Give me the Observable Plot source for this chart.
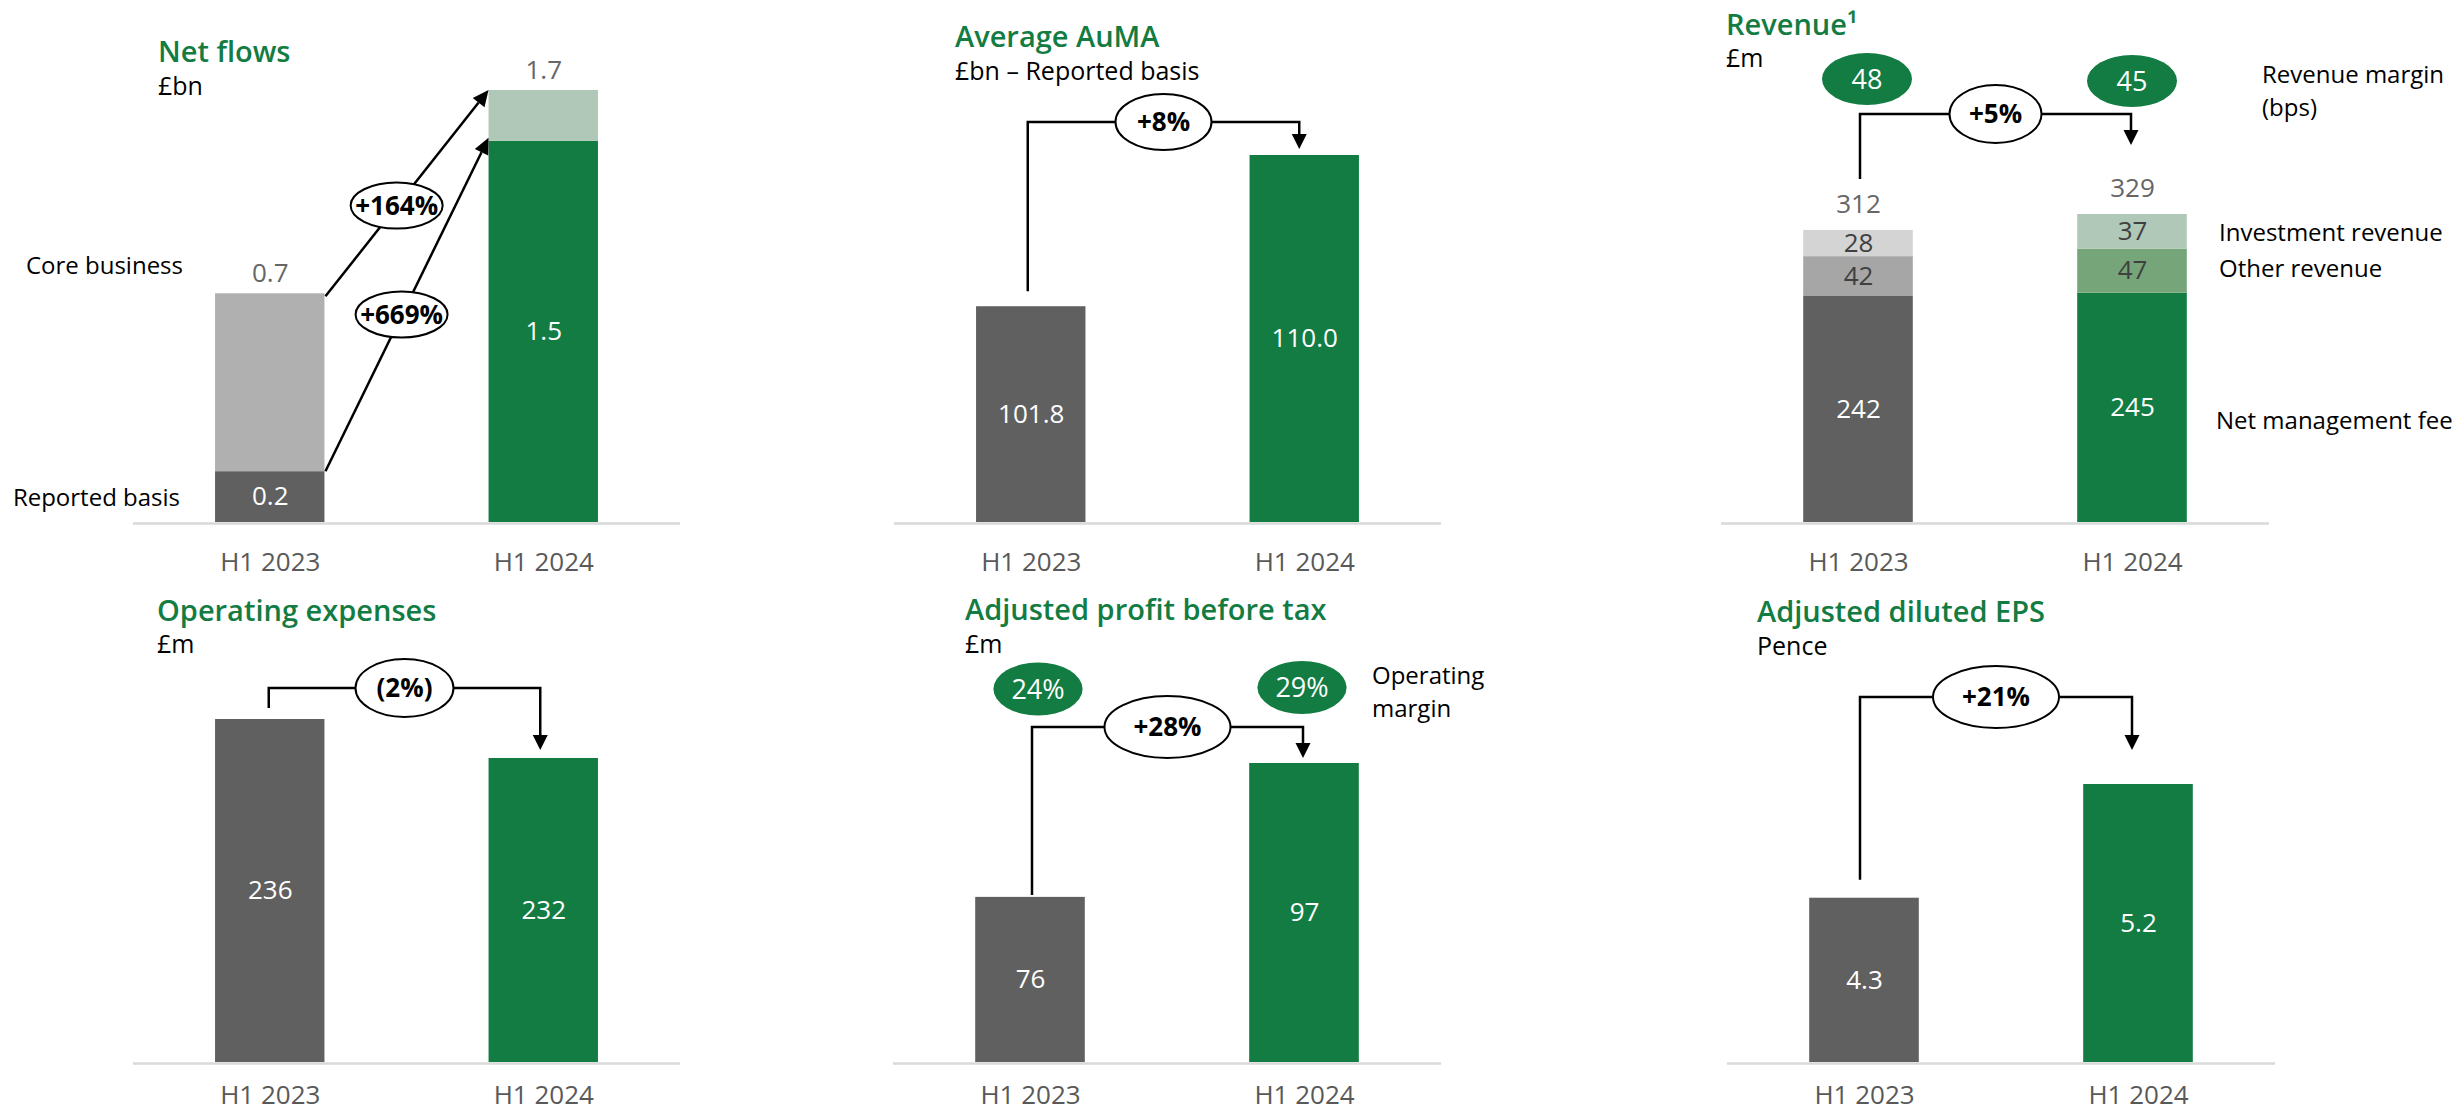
<!DOCTYPE html>
<html><head><meta charset="utf-8">
<script src="https://cdn.jsdelivr.net/npm/d3@7"></script>
<script src="https://cdn.jsdelivr.net/npm/@observablehq/plot@0.6"></script>
<style>
html,body{margin:0;padding:0;background:#fff;overflow:hidden;}
#root{position:relative;width:2453px;height:1112px;overflow:hidden;font-family:"Open Sans",sans-serif;}
.lbl{position:absolute;white-space:nowrap;}
svg{overflow:visible;}
</style></head><body><div id="root"></div>
<script>
// ---------- data ----------
const periods = ["H1 2023", "H1 2024"];
// Net flows (£bn)
const nfReported = [0.2, 1.5];
const nfCore = [0.7, 0.2];
const nfTopLabels = [0.7, 1.7];
const nfChanges = ["+164%", "+669%"]; // core business, reported basis
// Average AuMA (£bn)
const aumaValues = [101.8, 110.0];
const aumaChange = "+8%";
// Revenue (£m)
const revNetMgmt = [242, 245];
const revOther = [42, 47];
const revInvest = [28, 37];
const revTotals = [312, 329];
const revMargins = [48, 45];
const revChange = "+5%";
// Operating expenses (£m)
const opexValues = [236, 232];
const opexChange = "(2%)";
// Adjusted profit before tax (£m)
const apbtValues = [76, 97];
const apbtMargins = ["24%", "29%"];
const apbtChange = "+28%";
// Adjusted diluted EPS (pence)
const epsValues = [4.3, 5.2];
const epsChange = "+21%";

// ---------- styles ----------
const GREEN = "#127c42", DARK = "#606060";
const nfColors = {"H1 2023": {"Reported basis": DARK, "Core business": "#b0b0b0"},
                  "H1 2024": {"Reported basis": GREEN, "Core business": "#b0c8b8"}};
const revColors = {"H1 2023": {"Net management fee": DARK, "Other revenue": "#a6a6a6", "Investment revenue": "#d4d4d4"},
                   "H1 2024": {"Net management fee": GREEN, "Other revenue": "#76a579", "Investment revenue": "#b0c8b8"}};
const root = document.getElementById("root");

// text block; baseline = baseline of the first line
function addText(lines, x, baseline, size, o = {}) {
  const L = o.lh || Math.round(size * 1.1);
  const d = document.createElement("div");
  d.className = "lbl";
  [].concat(lines).forEach((t, i) => {
    if (i) d.appendChild(document.createElement("br"));
    d.appendChild(document.createTextNode(t));
  });
  d.style.fontSize = size + "px";
  d.style.lineHeight = L + "px";
  d.style.fontWeight = o.weight || 400;
  d.style.color = o.color || "#000";
  d.style.top = (baseline - (L - 1.362 * size) / 2 - 1.069 * size) + "px";
  d.style.left = x + "px";
  if (o.anchor === "end") d.style.transform = "translateX(-100%)";
  root.appendChild(d);
}

const bw = s => (typeof s.x.bandwidth === "function" ? s.x.bandwidth() : s.x.bandwidth);
const cx = (s, p) => s.x(p) + bw(s) / 2;

function bubble(g, x, y, rx, ry, label, o = {}) {
  g.append("ellipse").attr("cx", x).attr("cy", y).attr("rx", rx).attr("ry", ry)
    .attr("fill", o.fill || "white").attr("stroke", o.stroke || "#000").attr("stroke-width", o.sw ?? 2);
  g.append("text").attr("x", x).attr("y", y).attr("dy", "0.36em").attr("text-anchor", "middle")
    .attr("font-size", o.size || 26).attr("font-weight", o.weight || 700).attr("fill", o.color || "#000")
    .attr("font-family", "Open Sans").text(label);
}
function bracket(g, x0, y0, x1, y1, yl, label, rx, ry) {
  const head = 15, hw = 7.5;
  g.append("path").attr("d", `M${x0},${y0}V${yl}H${x1}V${y1 - head + 1}`)
    .attr("fill", "none").attr("stroke", "#000").attr("stroke-width", 2.5);
  g.append("path").attr("d", `M${x1 - hw},${y1 - head}L${x1 + hw},${y1 - head}L${x1},${y1}Z`).attr("fill", "#000");
  bubble(g, (x0 + x1) / 2, yl, rx, ry, label);
}
function arrow(g, xa, ya, xb, yb) {
  const head = 16, hw = 7.5;
  const dx = xb - xa, dy = yb - ya, L = Math.hypot(dx, dy), ux = dx / L, uy = dy / L;
  const bx = xb - ux * head, by = yb - uy * head;
  g.append("line").attr("x1", xa).attr("y1", ya).attr("x2", bx).attr("y2", by)
    .attr("stroke", "#000").attr("stroke-width", 2.5);
  g.append("path").attr("d", `M${bx - uy * hw},${by + ux * hw}L${bx + uy * hw},${by - ux * hw}L${xb},${yb}Z`).attr("fill", "#000");
}
const annot = draw => (index, scales, values, dims) => {
  const g = d3.create("svg:g");
  draw(g, scales, dims);
  return g.node();
};

function panel({left, top, width, height, axisLeft, axisRight, baseline, frameTop, yDomain, marks, tickPadding = 30.5}) {
  const chart = Plot.plot({
    width, height,
    marginLeft: axisLeft - left, marginRight: left + width - axisRight,
    marginTop: frameTop - top, marginBottom: top + height - baseline,
    x: {domain: periods, paddingInner: 0.6, paddingOuter: 0.3, round: false, axis: null},
    y: {domain: yDomain, axis: null},
    style: {fontFamily: "Open Sans", fontSize: "26px", background: "transparent", overflow: "visible"},
    marks: [
      ...marks,
      Plot.ruleY([yDomain[0]], {stroke: "#d9d9d9", strokeWidth: 2.5, dy: 1}),
      Plot.axisX({tickSize: 0, tickPadding, fontSize: 26, fill: "#595959", label: null})
    ]
  });
  chart.style.position = "absolute";
  chart.style.left = left + "px";
  chart.style.top = top + "px";
  root.appendChild(chart);
}

// simple (non-stacked) bar marks with centred labels
function simpleMarks(values, v0, fmt) {
  return [
    Plot.barY(periods, {x: d => d, y: (d, i) => values[i], fill: (d, i) => (i === 0 ? DARK : GREEN), clip: true}),
    Plot.text(periods, {x: d => d, y: (d, i) => (v0 + values[i]) / 2, text: (d, i) => fmt(values[i]), fill: "white", fontSize: 26})
  ];
}

// ---------- Panel 1: Net flows ----------
const nfRows = periods.flatMap((p, i) => [
  {period: p, seg: "Reported basis", value: nfReported[i]},
  {period: p, seg: "Core business", value: nfCore[i]}
]);
panel({
  left: 0, top: 0, width: 820, height: 575, axisLeft: 133, axisRight: 680, baseline: 522, frameTop: 90,
  yDomain: [0, 1.7],
  marks: [
    Plot.barY(nfRows, {x: "period", y: "value", fill: d => nfColors[d.period][d.seg]}),
    Plot.text(periods, {x: d => d, y: (d, i) => nfReported[i] / 2, text: (d, i) => nfReported[i].toFixed(1), fill: "white", fontSize: 26}),
    Plot.text(periods, {x: d => d, y: (d, i) => nfReported[i] + nfCore[i], text: (d, i) => nfTopLabels[i].toFixed(1), fill: "#666", fontSize: 26, dy: -20}),
    annot((g, s) => {
      const xa = s.x(periods[0]) + bw(s), xb = s.x(periods[1]);
      const lines = [
        [s.y(nfReported[0] + nfCore[0]) + 3, s.y(nfReported[1] + nfCore[1]), nfChanges[0], 0.44],
        [s.y(nfReported[0]), s.y(nfReported[1]) - 3, nfChanges[1], 0.47]
      ];
      for (const [ya, yb] of lines) arrow(g, xa + 1, ya, xb, yb);
      for (const [ya, yb, lab, t] of lines) bubble(g, xa + (xb - xa) * t, ya + (yb - ya) * t, 46, 23, lab);
    })
  ]
});
addText("Net flows", 158, 62, 29, {weight: 600, color: GREEN});
addText("£bn", 158, 95, 25);
addText("Core business", 183, 274, 24, {anchor: "end"});
addText("Reported basis", 180, 506, 24, {anchor: "end"});

// ---------- Panel 2: Average AuMA ----------
const aumaV0 = 90.1;
panel({
  left: 820, top: 0, width: 860, height: 575, axisLeft: 894, axisRight: 1441, baseline: 522, frameTop: 155,
  yDomain: [aumaV0, 110],
  marks: [
    ...simpleMarks(aumaValues, aumaV0, v => v.toFixed(1)),
    annot((g, s) => bracket(g, cx(s, periods[0]) - 3, s.y(aumaValues[0]) - 15, cx(s, periods[1]) - 5, s.y(aumaValues[1]) - 6, 122, aumaChange, 48, 28))
  ]
});
addText("Average AuMA", 955, 47, 29, {weight: 600, color: GREEN});
addText("£bn – Reported basis", 955, 80, 25);

// ---------- Panel 3: Revenue ----------
const revRows = periods.flatMap((p, i) => [
  {period: p, seg: "Net management fee", value: revNetMgmt[i]},
  {period: p, seg: "Other revenue", value: revOther[i]},
  {period: p, seg: "Investment revenue", value: revInvest[i]}
]);
panel({
  left: 1680, top: 0, width: 773, height: 575, axisLeft: 1721, axisRight: 2269, baseline: 522, frameTop: 214,
  yDomain: [0, 329],
  marks: [
    Plot.barY(revRows, {x: "period", y: "value", fill: d => revColors[d.period][d.seg]}),
    Plot.text(revRows, Plot.stackY({x: "period", y: "value", text: d => String(d.value),
      fill: d => (d.seg === "Net management fee" ? "white" : "#404040"), fontSize: 26})),
    Plot.text(periods, {x: d => d, y: (d, i) => revNetMgmt[i] + revOther[i] + revInvest[i], text: (d, i) => String(revTotals[i]), fill: "#666", fontSize: 26, dy: -26}),
    annot((g, s) => {
      bracket(g, cx(s, periods[0]) + 2, s.y(revNetMgmt[0] + revOther[0] + revInvest[0]) - 51,
        cx(s, periods[1]) - 1, s.y(revNetMgmt[1] + revOther[1] + revInvest[1]) - 69, 114, revChange, 46, 29);
      periods.forEach((p, i) => bubble(g, cx(s, p) + (i === 0 ? 9 : 0), [79, 81][i], 45, 26, String(revMargins[i]),
        {fill: GREEN, stroke: "none", color: "white", weight: 400, size: 27}));
    })
  ]
});
addText("Revenue¹", 1726, 35, 29, {weight: 600, color: GREEN});
addText("£m", 1726, 67, 25);
addText(["Revenue margin", "(bps)"], 2262, 83, 24, {lh: 33});
addText("Investment revenue", 2219, 241, 24);
addText("Other revenue", 2219, 277, 24);
addText("Net management fee", 2216, 429, 24);

// ---------- Panel 4: Operating expenses ----------
const opexV0 = 200.8;
panel({
  left: 0, top: 575, width: 820, height: 537, axisLeft: 133, axisRight: 680, baseline: 1062, frameTop: 719,
  yDomain: [opexV0, 236], tickPadding: 23,
  marks: [
    ...simpleMarks(opexValues, opexV0, v => String(v)),
    annot((g, s) => bracket(g, cx(s, periods[0]) - 1, s.y(opexValues[0]) - 11, cx(s, periods[1]) - 3, s.y(opexValues[1]) - 8, 113, opexChange, 49, 29))
  ]
});
addText("Operating expenses", 157, 621, 29, {weight: 600, color: GREEN});
addText("£m", 157, 653, 25);

// ---------- Panel 5: Adjusted profit before tax ----------
const apbtV0 = 50.1;
panel({
  left: 820, top: 575, width: 860, height: 537, axisLeft: 893, axisRight: 1441, baseline: 1062, frameTop: 763,
  yDomain: [apbtV0, 97], tickPadding: 23,
  marks: [
    ...simpleMarks(apbtValues, apbtV0, v => String(v)),
    annot((g, s) => {
      bracket(g, cx(s, periods[0]) + 2, s.y(apbtValues[0]) - 2, cx(s, periods[1]) - 1, s.y(apbtValues[1]) - 5, 152, apbtChange, 63, 31);
      periods.forEach((p, i) => bubble(g, cx(s, p) + (i === 0 ? 8 : -2), [114, 112.5][i], 44.6, 26.4, apbtMargins[i],
        {fill: GREEN, stroke: "none", color: "white", weight: 400, size: 27}));
    })
  ]
});
addText("Adjusted profit before tax", 965, 620, 29, {weight: 600, color: GREEN});
addText("£m", 965, 653, 25);
addText(["Operating", "margin"], 1372, 683.5, 24, {lh: 33});

// ---------- Panel 6: Adjusted diluted EPS ----------
const epsV0 = 3.0;
panel({
  left: 1680, top: 575, width: 773, height: 537, axisLeft: 1727, axisRight: 2275, baseline: 1062, frameTop: 784,
  yDomain: [epsV0, 5.2], tickPadding: 23,
  marks: [
    ...simpleMarks(epsValues, epsV0, v => v.toFixed(1)),
    annot((g, s) => bracket(g, cx(s, periods[0]) - 4, s.y(epsValues[0]) - 18, cx(s, periods[1]) - 6, s.y(epsValues[1]) - 34, 122, epsChange, 63, 31))
  ]
});
addText("Adjusted diluted EPS", 1757, 622, 29, {weight: 600, color: GREEN});
addText("Pence", 1757, 655, 25);
</script></body></html>
